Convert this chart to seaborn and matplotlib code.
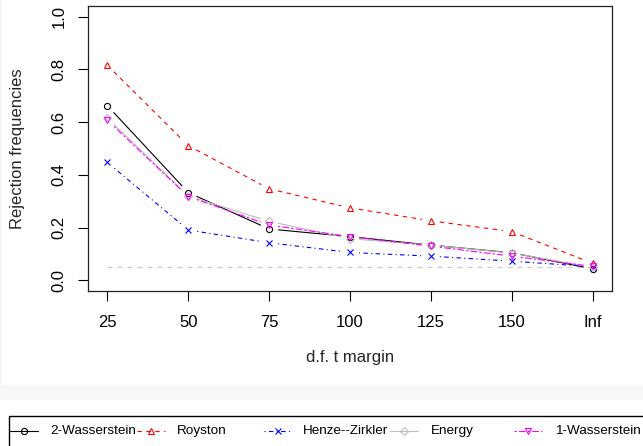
import numpy as np
import pandas as pd
import matplotlib
matplotlib.use("Agg")
import matplotlib.pyplot as plt
import seaborn as sns
from matplotlib.patches import Rectangle
from matplotlib.collections import LineCollection


# data
df_labels = ["25", "50", "75", "100", "125", "150", "Inf"]
methods = ["2-Wasserstein", "Royston", "Henze--Zirkler", "Energy", "1-Wasserstein"]

two_wasserstein = [0.662, 0.333, 0.195, 0.166, 0.134, 0.105, 0.044]
royston = [0.815, 0.511, 0.347, 0.275, 0.226, 0.185, 0.065]
henze_zirkler = [0.447, 0.191, 0.143, 0.106, 0.092, 0.073, 0.052]
energy = [0.615, 0.320, 0.224, 0.158, 0.134, 0.104, 0.050]
one_wasserstein = [0.607, 0.318, 0.210, 0.166, 0.130, 0.092, 0.053]

alpha_level = 0.05
y_ticks = [0.0, 0.2, 0.4, 0.6, 0.8, 1.0]

# styles (R: col / pch / lty)
colors = {"2-Wasserstein": "black", "Royston": "#FF0000", "Henze--Zirkler": "#0000FF",
          "Energy": "#BEBEBE", "1-Wasserstein": "#FF00FF"}
markers = {"2-Wasserstein": "o", "Royston": "^", "Henze--Zirkler": "x",
           "Energy": "D", "1-Wasserstein": "v"}
dashes = {"2-Wasserstein": "", "Royston": (4, 4), "Henze--Zirkler": (1, 3, 4, 3),
          "Energy": "", "1-Wasserstein": (2, 2, 6, 2)}
marker_size = {"o": 4.4, "^": 4.6, "x": 4.0, "D": 3.8, "v": 4.6}

sns.set_style("ticks")
plt.rcParams["font.family"] = ["Liberation Sans", "DejaVu Sans"]
plt.rcParams["font.size"] = 12

W, H = 643, 446
fig = plt.figure(figsize=(W / 100, H / 100), dpi=100)
fig.patch.set_facecolor("white")

# background overlay in pixel coordinates (grey band + legend)
lax = fig.add_axes([0, 0, 1, 1], zorder=-1)
lax.set_xlim(0, W)
lax.set_ylim(H, 0)
lax.axis("off")
lax.add_patch(Rectangle((0, 385), W, 15, color="#F7F7F7", lw=0))
lax.add_patch(Rectangle((0, 0), 2, 385, color="#F5F5F5", lw=0))

ax = fig.add_axes([88 / W, 1 - 291 / H, (612 - 88) / W, (291 - 6) / H])
ax.set_facecolor("white")

x_pos = np.arange(1, len(df_labels) + 1)
series = [two_wasserstein, royston, henze_zirkler, energy, one_wasserstein]
data = pd.DataFrame({
    "pos": np.tile(x_pos, len(methods)),
    "rate": np.concatenate(series),
    "method": np.repeat(methods, len(df_labels)),
})

ax.set_xlim(0.76, 7.24)
ax.set_ylim(-0.04, 1.04)

ax.hlines(alpha_level, x_pos[0], x_pos[-1], colors="#CCCCCC",
          linestyles=(0, (4, 4)), linewidth=0.9, zorder=1)

# R type="b": points, with line segments that stop short of each point
gap = 9.0
for m in methods:
    sub = data[data["method"] == m]
    mk = markers[m]
    sns.lineplot(data=sub, x="pos", y="rate", color=colors[m], linewidth=0.8,
                 marker=mk, markersize=marker_size[mk], markerfacecolor="none",
                 markeredgecolor=colors[m], markeredgewidth=0.8,
                 legend=False, ax=ax)
    line = ax.lines[-1]
    xy = ax.transData.transform(np.column_stack(line.get_data()))
    segs = []
    for p0, p1 in zip(xy[:-1], xy[1:]):
        d = p1 - p0
        L = np.hypot(*d)
        if L <= 2 * gap:
            continue
        u = d / L
        segs.append(ax.transData.inverted().transform(np.array([p0 + u * gap, p1 - u * gap])))
    ls = (0, dashes[m]) if dashes[m] else "solid"
    ax.add_collection(LineCollection(segs, colors=colors[m], linewidths=0.8,
                                     linestyles=ls, zorder=2))
    line.set_linestyle("none")

ax.set_xlim(0.76, 7.24)
ax.set_ylim(-0.04, 1.04)
ax.set_xticks(x_pos, df_labels)
ax.set_yticks(y_ticks, [f"{v:.1f}" for v in y_ticks])
ax.tick_params(axis="both", length=7, width=0.8, color="black", labelsize=12,
               labelcolor="black")
ax.tick_params(axis="x", pad=10)
ax.tick_params(axis="y", pad=8.3)
plt.setp(ax.get_yticklabels(), rotation=90, va="center")
for s in ax.spines.values():
    s.set_visible(True)
    s.set_color("#222222")
    s.set_linewidth(0.9)

ax.set_xlabel("d.f. t margin", fontsize=12)
ax.set_ylabel("Rejection frequencies", fontsize=12)
ax.xaxis.set_label_coords(0.5, (291 - 350) / 285)
ax.yaxis.set_label_coords((25 - 88) / 524, 0.5)

# legend drawn like R's horizontal legend box
lax.add_patch(Rectangle((9, 416), 700, 100, fill=False, ec="black", lw=1.0))
leg_y = 431
handle_x = [10, 137, 264, 390, 514]
text_x = [50, 177, 303, 431, 555]
for m, hx, tx in zip(methods, handle_x, text_x):
    lax.plot([hx, hx + 28], [leg_y, leg_y], color=colors[m], linewidth=0.8,
             dashes=dashes[m] if dashes[m] else (None, None))
    mk = markers[m]
    lax.plot([hx + 14], [leg_y], linestyle="none", marker=mk,
             markersize=marker_size[mk], markerfacecolor="none",
             markeredgecolor=colors[m], markeredgewidth=0.8)
    lax.text(tx, leg_y, m, va="center", ha="left", fontsize=9.7, color="black")

fig.savefig("out.png", dpi=100)
